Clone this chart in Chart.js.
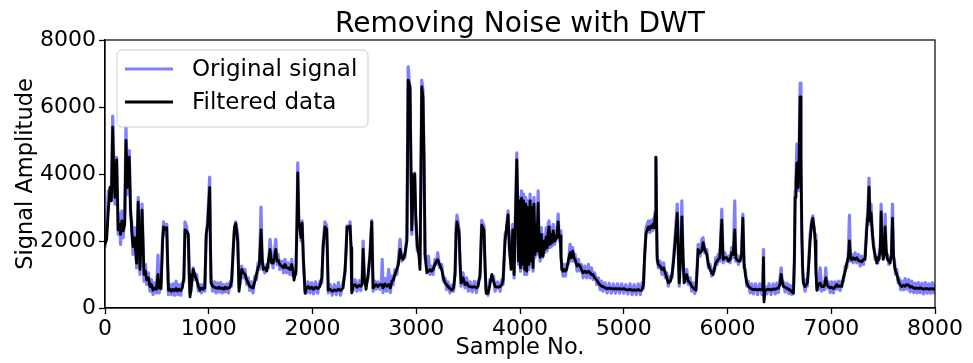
<!DOCTYPE html>
<html>
<head>
<meta charset="utf-8">
<script src="https://cdn.jsdelivr.net/npm/chart.js@4"></script>
<style>
  html, body { margin: 0; padding: 0; background: #fff; }
</style>
</head>
<body>
<canvas id="myChart" width="973" height="363"></canvas>
<script>
// sample positions (shared by both series)
const sampleNo = [
  0,16,32,48,62,74,86,96,112,127,
  140,150,162,175,190,202,218,234,246,257,
  270,285,305,320,337,357,376,390,402,418,
  434,448,463,480,495,511,522,540,555,565,
  580,595,603,612,627,640,655,670,685,700,
  715,730,745,760,771,785,803,812,819,830,
  850,865,884,900,916,930,946,962,975,990,
  1009,1016,1022,1038,1055,1070,1085,1100,1115,1130,
  1145,1160,1175,1190,1205,1220,1234,1247,1260,1279,
  1292,1305,1318,1335,1350,1365,1380,1395,1410,1427,
  1445,1460,1475,1488,1504,1515,1523,1540,1559,1575,
  1591,1605,1620,1633,1646,1658,1668,1685,1703,1720,
  1735,1750,1764,1782,1800,1812,1822,1840,1850,1858,
  1868,1880,1890,1900,1912,1928,1942,1957,1975,1993,
  2010,2030,2050,2072,2090,2102,2120,2137,2145,2152,
  2170,2190,2210,2230,2250,2270,2295,2314,2325,2333,
  2350,2362,2372,2378,2391,2410,2430,2450,2465,2478,
  2488,2500,2516,2536,2555,2571,2584,2600,2613,2630,
  2650,2665,2672,2680,2700,2715,2735,2750,2765,2777,
  2795,2812,2828,2844,2860,2874,2890,2910,2922,2940,
  2950,2957,2970,2985,2995,3010,3025,3036,3045,3053,
  3065,3075,3085,3102,3118,3133,3148,3162,3180,3195,
  3207,3225,3245,3262,3277,3292,3306,3325,3342,3360,
  3374,3385,3393,3413,3422,3432,3451,3470,3487,3503,
  3519,3540,3560,3580,3596,3615,3631,3653,3663,3673,
  3692,3710,3728,3745,3760,3785,3808,3825,3837,3856,
  3870,3885,3898,3914,3930,3943,3955,3969,3978,3985,
  3995,4005,4015,4025,4035,4045,4055,4065,4075,4085,
  4097,4108,4118,4126,4135,4145,4155,4162,4175,4185,
  4194,4205,4215,4223,4235,4242,4252,4262,4272,4280,
  4290,4300,4310,4320,4335,4354,4368,4378,4387,4395,
  4403,4415,4425,4438,4450,4465,4483,4495,4508,4520,
  4531,4550,4565,4579,4593,4608,4625,4643,4660,4675,
  4690,4704,4720,4740,4756,4772,4786,4800,4820,4840,
  4860,4880,4900,4920,4940,4960,4980,5000,5020,5040,
  5060,5080,5100,5120,5140,5160,5176,5190,5200,5215,
  5237,5250,5263,5275,5283,5295,5303,5310,5317,5322,
  5333,5350,5368,5385,5400,5415,5430,5450,5465,5480,
  5496,5516,5527,5535,5548,5560,5572,5582,5595,5607,
  5622,5640,5655,5670,5685,5697,5710,5717,5735,5752,
  5765,5780,5800,5816,5833,5848,5862,5875,5887,5900,
  5910,5925,5945,5958,5975,5993,6010,6025,6040,6055,
  6070,6080,6090,6105,6122,6135,6148,6160,6172,6186,
  6200,6218,6235,6250,6270,6290,6310,6333,6340,6347,
  6352,6362,6380,6400,6420,6440,6460,6475,6490,6505,
  6517,6528,6540,6555,6575,6590,6605,6620,6636,6645,
  6652,6660,6669,6681,6690,6700,6708,6716,6724,6731,
  6748,6760,6770,6783,6796,6810,6822,6835,6845,6852,
  6861,6877,6893,6908,6925,6936,6947,6960,6973,6990,
  7005,7021,7037,7053,7070,7085,7102,7117,7135,7150,
  7165,7175,7186,7198,7212,7230,7246,7262,7278,7295,
  7310,7326,7342,7354,7364,7375,7384,7395,7406,7422,
  7439,7450,7461,7473,7481,7490,7500,7510,7519,7530,
  7542,7555,7567,7580,7590,7600,7610,7620,7632,7645,
  7654,7668,7680,7696,7712,7728,7745,7760,7777,7793,
  7810,7826,7840,7858,7875,7890,7908,7925,7942,7958,
  7975,7990,8000
];

// noisy input (blue)
const originalSignal = [
  1800,2400,3500,3300,3700,5730,4200,3100,4500,2200,
  2800,1900,2900,2100,2700,5400,3400,4700,2800,2600,
  1600,2400,1200,3300,1000,3100,800,1300,700,1050,
  500,850,400,750,450,1580,450,700,2100,2570,
  2200,2500,1300,400,700,400,720,380,800,400,
  700,380,750,800,2570,2450,2050,900,450,500,
  1200,850,1000,500,700,450,700,500,2000,2700,
  3910,1800,900,500,780,450,750,480,760,450,
  700,480,720,450,780,650,1700,2300,2570,2200,
  600,750,1250,900,1150,700,900,520,780,450,
  950,850,1350,1150,3010,1400,1300,1050,1300,1200,
  2050,1500,1200,1650,2050,1300,1600,1150,1400,1050,
  1450,1050,1350,1000,1450,950,1000,1000,2400,4330,
  2500,2500,2000,2600,1400,550,450,780,450,760,
  420,780,440,800,750,1900,2570,2450,1300,450,
  700,380,700,400,760,380,750,1050,1900,2450,
  2300,2570,1700,550,520,850,500,820,520,850,
  2000,800,700,900,1700,2620,500,800,560,780,
  560,820,1450,460,880,500,1150,460,950,700,
  1150,1000,1450,2050,1400,1600,1500,2200,7200,6500,
  3800,2200,3700,4030,2600,1700,1800,1300,3800,6800,
  6500,4300,1500,1200,1550,1000,1250,1000,1450,1300,
  1650,1200,1300,800,900,550,780,450,680,500,
  1100,2500,2770,2350,1300,650,1050,600,900,500,
  780,480,800,460,800,900,2620,2450,1200,550,
  380,850,900,950,500,780,500,850,700,2200,
  2300,2900,1700,1300,2500,900,2700,4630,3000,1300,
  3300,1100,3500,1200,3400,1000,3300,1000,3200,1150,
  3400,1250,3200,1100,3300,1500,2700,1600,3500,1700,
  1400,2400,1500,1700,2200,1650,2400,1700,2500,2600,
  1800,2400,1850,2500,1900,2300,2800,2000,2300,1500,
  1250,950,1300,950,1300,1300,1900,1400,1800,1400,
  1600,1100,1450,1100,1300,900,1250,900,1300,900,
  1200,850,1050,700,900,550,800,500,750,450,
  740,440,720,440,720,440,720,440,700,420,
  720,400,700,400,720,400,750,600,1400,2400,
  2600,2250,2600,2300,2650,2350,2900,4500,2400,1600,
  1200,1400,1000,1350,900,1050,650,950,900,1500,
  2200,3100,1400,650,1700,3200,1400,900,800,1150,
  700,900,500,750,430,700,1400,1900,1550,2050,
  2100,1650,1750,1200,1300,950,1150,1100,1500,1300,
  1600,1400,2950,1350,1650,1400,1550,1350,1800,1500,
  3200,1400,1600,1300,1550,1500,2800,1200,1150,650,
  800,450,720,420,720,400,720,400,800,1750,
  300,650,420,720,400,720,420,740,460,850,
  1200,700,780,480,740,430,680,400,560,1400,
  3500,3900,4900,3500,4600,6710,4300,2200,1100,850,
  500,850,650,1400,2200,2600,2750,2300,2200,1100,
  650,550,1200,500,780,550,1200,600,780,460,
  780,450,780,560,800,520,800,800,1250,1200,
  1650,2770,1400,1600,1350,1650,1350,1600,1250,1550,
  1300,1600,2500,3000,3880,2500,3100,2200,2000,1450,
  1500,1350,1600,1900,3100,1700,1600,1500,2800,1600,
  1600,1300,1500,1500,3100,1500,1400,1000,1150,750,
  900,550,800,540,880,560,850,480,800,460,
  740,450,760,460,740,420,760,440,720,440,
  760,450,720
];

// DWT-filtered output (black)
const filteredData = [
  1900,2050,2900,3600,3200,5400,3900,3300,4420,2330,
  2500,2200,2600,2300,2500,5000,3600,4500,3000,2330,
  1830,2100,1340,3160,1150,2920,1000,1100,840,900,
  640,700,530,600,560,1000,600,580,2000,2420,
  2350,2400,1500,530,560,500,560,520,580,510,
  560,520,600,900,2330,2300,2200,1000,330,600,
  1150,1000,830,650,530,600,560,600,2200,2500,
  3600,2000,750,650,620,600,590,620,580,600,
  560,620,580,600,620,800,1600,2400,2530,2000,
  500,900,1150,1050,1000,850,750,650,620,600,
  800,1000,1200,1300,2330,1500,1150,1200,1100,1400,
  1750,1350,1340,1500,1750,1400,1440,1300,1250,1200,
  1300,1200,1200,1150,1300,1100,830,1100,2500,4030,
  2600,2330,2100,2530,1500,440,600,640,580,620,
  560,620,580,650,900,1800,2420,2350,1500,530,
  560,500,540,520,560,520,600,1150,1800,2420,
  2380,2450,1800,450,650,700,620,680,650,700,
  1750,900,560,1000,1600,2570,600,650,700,640,
  700,680,700,600,720,650,700,600,800,830,
  1000,1150,1300,1750,1500,1450,1600,2000,6800,6600,
  4000,2330,3500,4000,2800,1850,1600,1150,4000,6600,
  6300,4500,1600,1050,1100,1150,1100,1150,1300,1400,
  1440,1300,1150,900,750,700,640,580,530,600,
  1000,2300,2570,2230,1400,750,900,700,750,650,
  640,620,640,600,650,1000,2470,2330,1300,440,
  440,700,1000,800,640,620,640,700,830,2000,
  2400,2780,1800,1150,2330,1000,2500,4420,3150,1400,
  3200,1200,3280,1300,3200,1150,3100,1100,3000,1300,
  3200,1400,3000,1200,3100,1600,2500,1700,3130,1800,
  1520,2200,1600,1550,2000,1750,2120,1800,2300,2420,
  1900,2200,1950,2300,2000,2100,2570,2100,2150,1600,
  1150,1100,1150,1100,1150,1400,1650,1500,1700,1500,
  1450,1250,1300,1250,1150,1050,1100,1050,1100,1050,
  1000,1000,900,830,750,690,650,640,600,580,
  590,580,570,580,570,580,560,580,550,540,
  560,530,540,530,550,520,540,700,1500,2230,
  2420,2350,2450,2400,2500,2400,2800,4500,2500,1450,
  1300,1250,1150,1200,1050,900,750,800,1000,1400,
  2000,2830,1500,750,1500,2720,1500,750,900,1000,
  800,750,650,600,560,530,1300,1750,1650,1700,
  1950,1750,1600,1300,1150,1050,1000,1200,1340,1400,
  1450,1500,2620,1450,1500,1500,1400,1450,1650,1600,
  2330,1500,1450,1400,1400,1600,2680,1300,1000,750,
  650,600,560,550,560,540,560,540,560,1500,
  180,530,550,560,540,570,560,580,600,700,
  1000,800,640,620,590,560,530,480,440,1500,
  3300,3700,4330,3600,4500,6300,4500,2330,1200,750,
  640,700,750,1300,2000,2500,2680,2400,2000,1200,
  530,700,750,640,640,680,900,700,640,600,
  620,580,620,700,640,660,640,900,1100,1340,
  1500,2000,1500,1440,1500,1450,1500,1420,1400,1380,
  1450,1450,2330,2800,3610,2600,2830,2300,1850,1600,
  1340,1500,1450,1800,2870,1800,1450,1600,2420,1700,
  1450,1400,1340,1600,2680,1600,1250,1100,1000,850,
  750,680,640,680,650,700,680,620,640,600,
  580,600,580,600,580,560,580,580,560,580,
  570,560,600
];

const xTicks = [0, 1000, 2000, 3000, 4000, 5000, 6000, 7000, 8000];
const yTicks = [0, 2000, 4000, 6000, 8000];
const seriesLabels = ['Original signal', 'Filtered data'];
const chartTitle = 'Removing Noise with DWT';

const FONT = '"DejaVu Sans", sans-serif';

// matplotlib-like frame, title and legend drawn on top of the plot
const frameAndLegend = {
  id: 'frameAndLegend',
  afterDraw(chart) {
    const { ctx, chartArea: a } = chart;
    ctx.save();
    ctx.strokeStyle = '#000';
    ctx.lineWidth = 1.2;
    ctx.strokeRect(a.left, a.top, a.right - a.left, a.bottom - a.top);

    ctx.fillStyle = '#000';
    ctx.font = '28px ' + FONT;
    ctx.textAlign = 'center';
    ctx.textBaseline = 'alphabetic';
    ctx.fillText(chartTitle, (a.left + a.right) / 2, a.top - 8);

    // legend box
    const bx = a.left + 12, by = a.top + 10, bw = 251, bh = 77;
    ctx.beginPath();
    ctx.roundRect(bx, by, bw, bh, 5);
    ctx.fillStyle = 'rgba(255,255,255,0.8)';
    ctx.fill();
    ctx.strokeStyle = '#cccccc';
    ctx.lineWidth = 1;
    ctx.stroke();

    const ds = chart.data.datasets;
    const rows = [by + 19, by + 52];
    ctx.font = '23px ' + FONT;
    ctx.textAlign = 'left';
    ctx.textBaseline = 'middle';
    [1, 0].forEach((di, i) => {
      const d = ds[di];
      ctx.beginPath();
      ctx.moveTo(bx + 8, rows[i]);
      ctx.lineTo(bx + 56, rows[i]);
      ctx.strokeStyle = d.borderColor;
      ctx.lineWidth = d.borderWidth;
      ctx.stroke();
      ctx.fillStyle = '#000';
      ctx.fillText(d.label, bx + 75, rows[i] + 1);
    });
    ctx.restore();
  }
};

const ctx = document.getElementById('myChart');
new Chart(ctx, {
  type: 'line',
  data: {
    datasets: [
      {
        label: seriesLabels[1],
        data: sampleNo.map((x, i) => ({ x: x, y: filteredData[i] })),
        borderColor: '#000000',
        borderWidth: 2.8,
        pointRadius: 0,
        borderJoinStyle: 'round',
        tension: 0,
        order: 0
      },
      {
        label: seriesLabels[0],
        data: sampleNo.map((x, i) => ({ x: x, y: originalSignal[i] })),
        borderColor: 'rgba(0,0,255,0.5)',
        borderWidth: 3.2,
        pointRadius: 0,
        borderJoinStyle: 'round',
        tension: 0,
        order: 1
      }
    ]
  },
  options: {
    responsive: false,
    animation: false,
    devicePixelRatio: 1,
    layout: { padding: { top: 40, right: 38, left: 0, bottom: 0 } },
    plugins: {
      legend: { display: false },
      title: { display: false },
      tooltip: { enabled: false }
    },
    scales: {
      x: {
        type: 'linear',
        min: 0,
        max: 8000,
        afterBuildTicks: s => { s.ticks = xTicks.map(v => ({ value: v })); },
        afterFit: s => { s.height = 55; },
        ticks: {
          color: '#000',
          font: { family: FONT, size: 22 },
          padding: 2,
          maxRotation: 0,
          autoSkip: false,
          callback: v => String(v)
        },
        grid: {
          drawOnChartArea: false,
          drawTicks: true,
          tickLength: 6,
          tickWidth: 1.3,
          tickColor: '#000'
        },
        border: { display: true, color: '#000', width: 1.2 },
        title: {
          display: true,
          text: 'Sample No.',
          color: '#000',
          font: { family: FONT, size: 22.5 },
          padding: { top: 0, bottom: 1 }
        }
      },
      y: {
        type: 'linear',
        min: 0,
        max: 8000,
        afterBuildTicks: s => { s.ticks = yTicks.map(v => ({ value: v })); },
        afterFit: s => { s.width = 105; },
        ticks: {
          color: '#000',
          font: { family: FONT, size: 22 },
          padding: 3,
          callback: v => String(v)
        },
        grid: {
          drawOnChartArea: false,
          drawTicks: true,
          tickLength: 6,
          tickWidth: 1.3,
          tickColor: '#000'
        },
        border: { display: true, color: '#000', width: 1.2 },
        title: {
          display: true,
          text: 'Signal Amplitude',
          color: '#000',
          font: { family: FONT, size: 22.5 },
          padding: { top: 13, bottom: 0 }
        }
      }
    }
  },
  plugins: [frameAndLegend]
});
</script>
</body>
</html>
